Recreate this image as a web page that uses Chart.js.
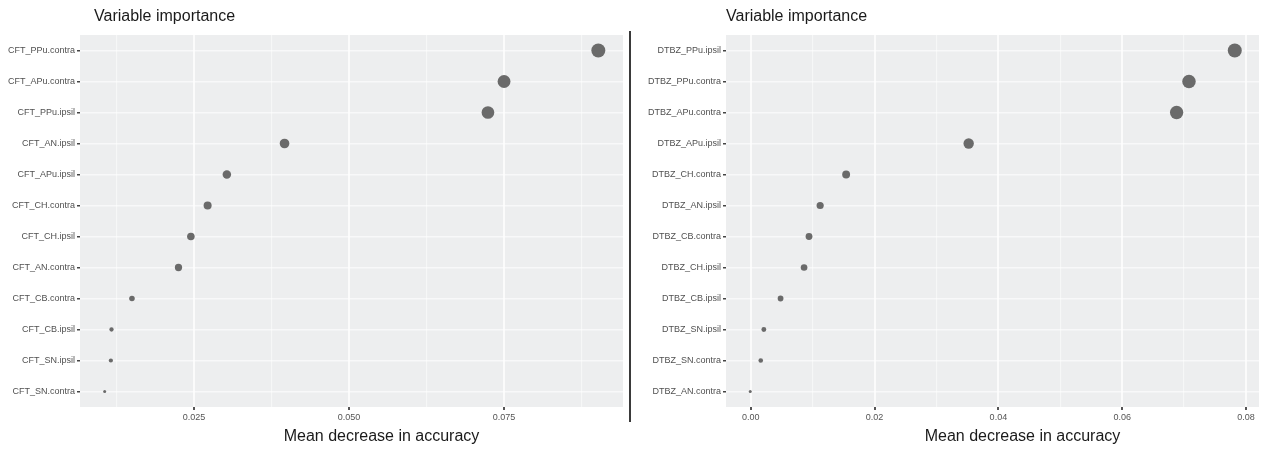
<!DOCTYPE html>
<html>
<head>
<meta charset="utf-8">
<script src="https://cdn.jsdelivr.net/npm/chart.js@4/dist/chart.umd.min.js"></script>
<style>
  body { margin: 0; background: #fff; width: 1266px; height: 453px; position: relative; overflow: hidden; }
  canvas { position: absolute; top: 0; }
  #left { left: 0; }
  #right { left: 632px; }
  #divider { position: absolute; left: 629px; top: 31px; width: 2px; height: 391px; background: #3a3a3a; }
</style>
</head>
<body>
<canvas id="left" width="630" height="453"></canvas>
<div id="divider"></div>
<canvas id="right" width="634" height="453"></canvas>
<script>
// données
const cftLabels = ['CFT_PPu.contra', 'CFT_APu.contra', 'CFT_PPu.ipsil', 'CFT_AN.ipsil', 'CFT_APu.ipsil', 'CFT_CH.contra',
  'CFT_CH.ipsil', 'CFT_AN.contra', 'CFT_CB.contra', 'CFT_CB.ipsil', 'CFT_SN.ipsil', 'CFT_SN.contra'];
const cftValues = [0.0902, 0.0750, 0.0724, 0.0396, 0.0303, 0.0272, 0.0245, 0.0225, 0.0150, 0.0117, 0.0116, 0.0106];
const cftTicks = [0.025, 0.050, 0.075];
const cftMinor = [0.0125, 0.0375, 0.0625, 0.0875];

const dtbzLabels = ['DTBZ_PPu.ipsil', 'DTBZ_PPu.contra', 'DTBZ_APu.contra', 'DTBZ_APu.ipsil', 'DTBZ_CH.contra', 'DTBZ_AN.ipsil',
  'DTBZ_CB.contra', 'DTBZ_CH.ipsil', 'DTBZ_CB.ipsil', 'DTBZ_SN.ipsil', 'DTBZ_SN.contra', 'DTBZ_AN.contra'];
const dtbzValues = [0.0782, 0.0708, 0.0688, 0.0352, 0.0154, 0.0112, 0.0094, 0.0086, 0.0048, 0.0021, 0.0016, -0.0001];
const dtbzTicks = [0.00, 0.02, 0.04, 0.06, 0.08];
const dtbzMinor = [0.01, 0.03, 0.05, 0.07];

const FONT = "'Liberation Sans', Arial, sans-serif";

/**
 * fond gris + titres
 */
const deco = {
  id: 'deco',
  beforeDraw(chart) {
    const a = chart.chartArea, ctx = chart.ctx;
    ctx.save();
    ctx.fillStyle = '#edeeef';
    ctx.fillRect(a.left, a.top, a.right - a.left, a.bottom - a.top);
    ctx.restore();
  },
  afterDraw(chart) {
    const a = chart.chartArea, ctx = chart.ctx;
    ctx.save();
    ctx.fillStyle = '#1a1a1a';
    ctx.font = '16px ' + FONT;
    ctx.textBaseline = 'middle';
    ctx.textAlign = 'left';
    ctx.fillText('Variable importance', 94, 17);
    ctx.textAlign = 'center';
    ctx.fillText('Mean decrease in accuracy', (a.left + a.right) / 2 + 30, 437);
    ctx.restore();
  }
};

function panel(id, labels, values, major, minor, decimals, axisWidth) {
  const lo = Math.min(...values), hi = Math.max(...values);
  const pad = (hi - lo) * 0.05;
  const radius = (ctx) => {
    const v = values[ctx.dataIndex];
    return 1.5 + 5.5 * Math.sqrt((v - lo) / (hi - lo));
  };
  const all = major.map(v => ({ value: v, isMajor: true }))
    .concat(minor.map(v => ({ value: v, isMajor: false })))
    .sort((p, q) => p.value - q.value);

  const data = {
    labels: labels,
    datasets: [{
      data: values,
      showLine: false,
      pointRadius: radius,
      pointHoverRadius: radius,
      pointBackgroundColor: '#6a6a6a',
      pointBorderWidth: 0,
    }]
  };
  const options = {
    responsive: false,
    animation: false,
    devicePixelRatio: 1,
    indexAxis: 'y',
    layout: { padding: { top: 35, right: 3, left: 0, bottom: 0 } },
    scales: {
      x: {
        type: 'linear',
        position: 'bottom',
        min: lo - pad,
        max: hi + pad,
        afterBuildTicks: (s) => { s.ticks = all.map(t => ({ ...t })); },
        afterFit: (s) => { s.height = 46; },
        border: { display: false },
        grid: {
          color: (c) => (c.tick && c.tick.isMajor ? 'rgba(255,255,255,0.75)' : 'rgba(255,255,255,0.5)'),
          lineWidth: (c) => (c.tick && c.tick.isMajor ? 2 : 1.2),
          tickColor: (c) => (c.tick && c.tick.isMajor ? '#555555' : 'rgba(0,0,0,0)'),
          tickLength: 3,
        },
        ticks: {
          autoSkip: false,
          maxRotation: 0,
          padding: 2,
          color: '#555555',
          font: { size: 9, family: FONT },
          callback: (v, i, ticks) => (ticks[i].isMajor ? v.toFixed(decimals) : ''),
        }
      },
      y: {
        type: 'category',
        offset: true,
        afterFit: (s) => { s.width = axisWidth; },
        border: { display: false },
        grid: { color: 'rgba(255,255,255,0.6)', lineWidth: 1.5, tickColor: '#444444', tickLength: 3 },
        ticks: { padding: 2, color: '#505050', font: { size: 9, family: FONT } }
      }
    },
    plugins: {
      legend: { display: false },
      tooltip: { enabled: false },
      title: { display: false }
    }
  };
  new Chart(document.getElementById(id).getContext('2d'), { type: 'line', data: data, options: options, plugins: [deco] });
}

panel('left', cftLabels, cftValues, cftTicks, cftMinor, 3, 80);
panel('right', dtbzLabels, dtbzValues, dtbzTicks, dtbzMinor, 2, 94);
</script>
</body>
</html>
